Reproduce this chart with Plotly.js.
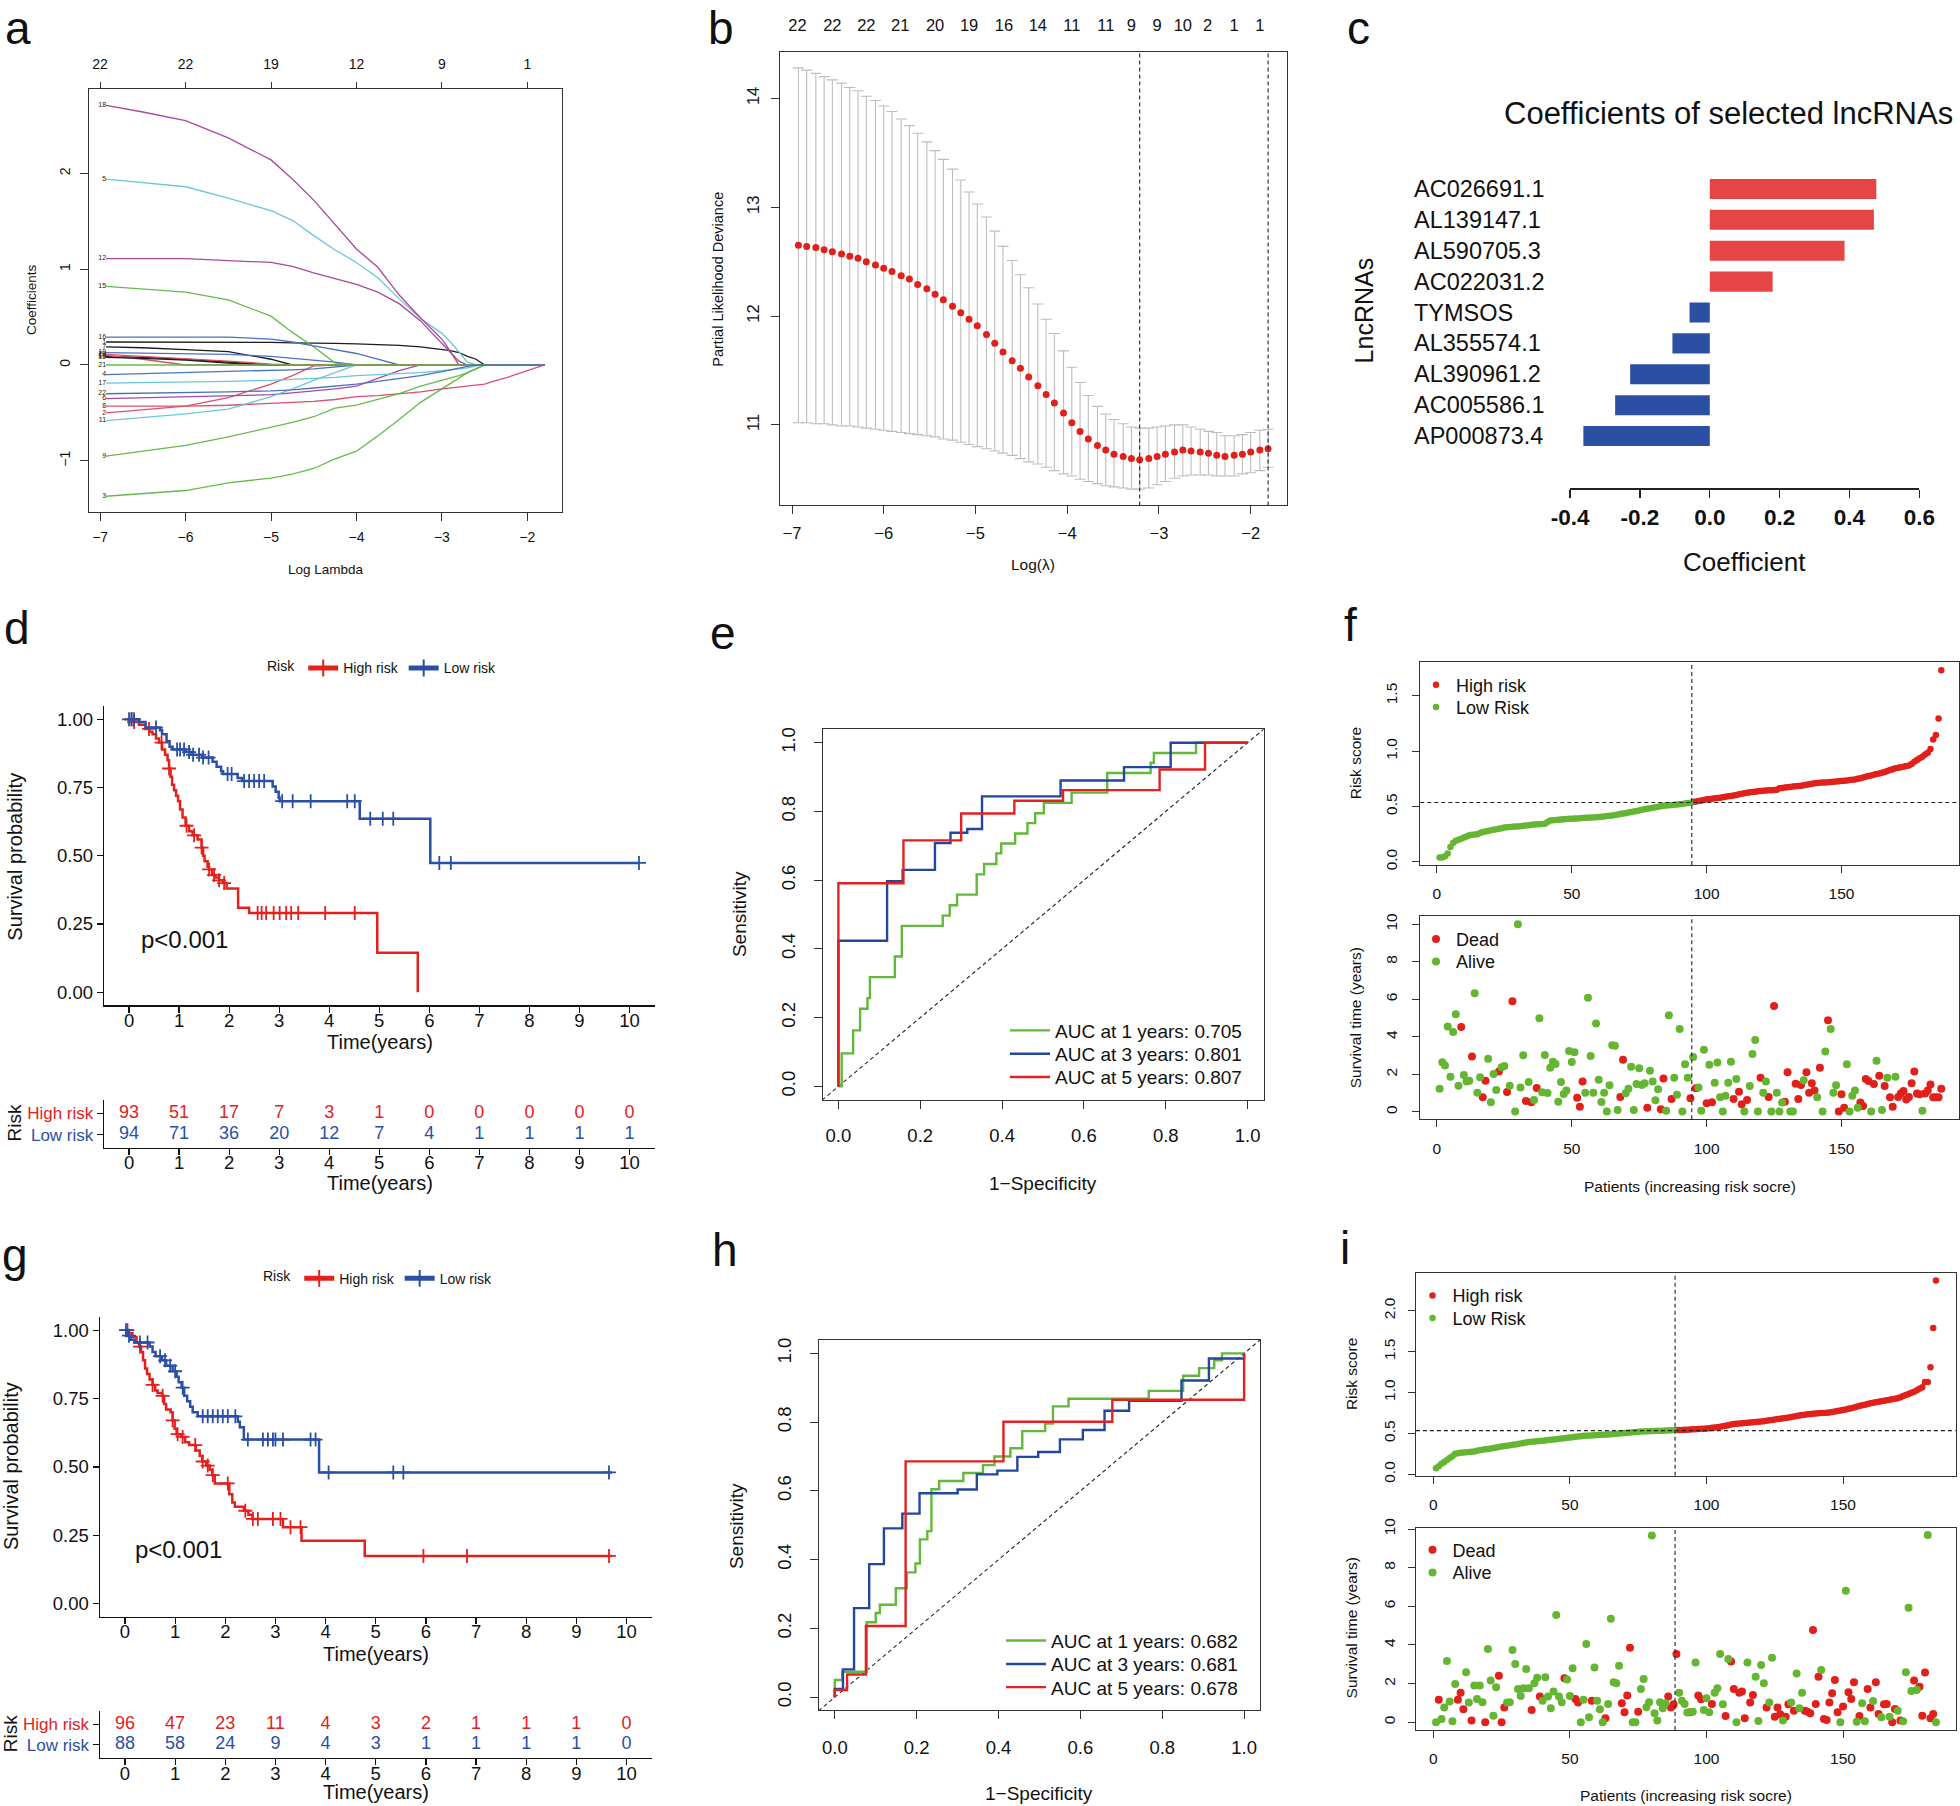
<!DOCTYPE html>
<html>
<head>
<meta charset="utf-8">
<script src="https://cdn.plot.ly/plotly-3.0.1.min.js"></script>
<style>
html,body{margin:0;padding:0;background:#fff;}
#fig{width:1960px;height:1806px;}
</style>
</head>
<body>
<div id="fig"></div>
<script>
// ======================= DATA =======================
// ---- panel a : LASSO coefficient paths ----
const A_LOGLAMBDA = [-6.93,-6.5,-6.0,-5.5,-5.0,-4.75,-4.5,-4.25,-4.0,-3.75,-3.5,-3.25,-3.0,-2.9,-2.8,-2.7,-2.6,-2.5,-2.4,-2.2,-2.0,-1.8];
const A_TOP_TICKS = [-7,-6,-5,-4,-3,-2];
const A_TOP_LABELS = ['22','22','19','12','9','1'];
const coef1  = [0.24,0.24,0.24,0.24,0.235,0.23,0.23,0.225,0.22,0.215,0.205,0.19,0.16,0.15,0.13,0.09,0.06,0,0,0,0,0];
const coef2  = [-0.50,-0.47,-0.43,-0.34,-0.20,-0.11,-0.01,0,0,0,0,0,0,0,0,0,0,0,0,0,0,0];
const coef3  = [-1.37,-1.34,-1.31,-1.23,-1.18,-1.14,-1.08,-0.98,-0.90,-0.74,-0.57,-0.39,-0.25,-0.19,-0.13,-0.08,-0.04,0,0,0,0,0];
const coef4  = [-0.10,-0.09,-0.08,-0.07,-0.06,-0.05,-0.04,-0.02,0,0,0,0,0,0,0,0,0,0,0,0,0,0];
const coef5  = [1.94,1.90,1.86,1.74,1.61,1.51,1.35,1.20,1.07,0.91,0.69,0.485,0.33,0.24,0.14,0.03,0,0,0,0,0,0];
const coef6  = [-0.35,-0.34,-0.33,-0.32,-0.31,-0.29,-0.27,-0.25,-0.22,-0.14,-0.06,0,0,0,0,0,0,0,0,0,0,0];
const coef7  = [0.19,0.18,0.16,0.14,0.06,0,0,0,0,0,0,0,0,0,0,0,0,0,0,0,0,0];
const coef8  = [-0.43,-0.43,-0.43,-0.42,-0.40,-0.39,-0.38,-0.36,-0.33,-0.32,-0.30,-0.28,-0.25,-0.24,-0.23,-0.22,-0.21,-0.20,-0.17,-0.12,-0.06,0];
const coef9  = [-0.95,-0.90,-0.84,-0.75,-0.65,-0.60,-0.54,-0.45,-0.42,-0.36,-0.30,-0.22,-0.16,-0.14,-0.11,-0.08,-0.04,0,0,0,0,0];
const coef10 = [0.13,0.125,0.12,0.11,0.09,0.07,0.05,0.03,0,0,0,0,0,0,0,0,0,0,0,0,0,0];
const coef11 = [-0.58,-0.55,-0.51,-0.46,-0.33,-0.25,-0.16,-0.08,0,0,0,0,0,0,0,0,0,0,0,0,0,0];
const coef12 = [1.11,1.11,1.11,1.09,1.07,1.03,0.96,0.90,0.84,0.76,0.64,0.46,0.22,0.13,0.04,0,0,0,0,0,0,0];
const coef13 = [0.09,0.08,0.06,0.03,0,0,0,0,0,0,0,0,0,0,0,0,0,0,0,0,0,0];
const coef14 = [0.10,0.06,0,0,0,0,0,0,0,0,0,0,0,0,0,0,0,0,0,0,0,0];
const coef15 = [0.82,0.79,0.76,0.68,0.51,0.34,0.19,0.02,0,0,0,0,0,0,0,0,0,0,0,0,0,0];
const coef16 = [0.29,0.29,0.29,0.29,0.27,0.24,0.20,0.16,0.12,0.06,0,0,0,0,0,0,0,0,0,0,0,0];
const coef17 = [-0.19,-0.185,-0.18,-0.17,-0.16,-0.15,-0.14,-0.13,-0.11,-0.10,-0.09,-0.08,-0.06,-0.05,-0.04,-0.03,-0.01,0,0,0,0,0];
const coef18 = [2.71,2.64,2.55,2.37,2.14,1.94,1.72,1.47,1.21,1.02,0.73,0.49,0.27,0.14,0,0,0,0,0,0,0,0];
const coef19 = [0.08,0.07,0.05,0.02,0,0,0,0,0,0,0,0,0,0,0,0,0,0,0,0,0,0];
const coef20 = [0.11,0.09,0.07,0.04,0.01,0,0,0,0,0,0,0,0,0,0,0,0,0,0,0,0,0];
const coef21 = [0,0,0,0,0,0,0,0,0,0,0,0,0,0,0,0,0,0,0,0,0,0];
const coef22 = [-0.30,-0.295,-0.29,-0.28,-0.27,-0.26,-0.24,-0.22,-0.20,-0.17,-0.14,-0.11,-0.07,-0.05,-0.03,-0.015,0,0,0,0,0,0];
const A_VAR_LABELS = ['1','2','3','4','5','6','7','8','9','10','11','12','13','14','15','16','17','18','19','20','21','22'];

// ---- panel b : cross-validation ----
const CV_LOGLAMBDA = [-6.93,-6.84,-6.74,-6.65,-6.56,-6.46,-6.37,-6.28,-6.19,-6.09,-6.00,-5.91,-5.81,-5.72,-5.63,-5.53,-5.44,-5.35,-5.25,-5.16,-5.07,-4.98,-4.88,-4.79,-4.70,-4.60,-4.51,-4.42,-4.32,-4.23,-4.14,-4.04,-3.95,-3.86,-3.77,-3.67,-3.58,-3.49,-3.39,-3.30,-3.21,-3.11,-3.02,-2.93,-2.83,-2.74,-2.65,-2.55,-2.46,-2.37,-2.28,-2.18,-2.09,-2.00,-1.90,-1.81];
const CV_MEAN = [12.65,12.64,12.63,12.61,12.59,12.57,12.55,12.53,12.50,12.47,12.44,12.41,12.37,12.34,12.29,12.25,12.20,12.15,12.09,12.03,11.97,11.91,11.83,11.75,11.67,11.59,11.52,11.44,11.36,11.28,11.20,11.11,11.02,10.94,10.87,10.81,10.77,10.73,10.71,10.69,10.68,10.69,10.71,10.73,10.75,10.77,10.76,10.75,10.74,10.72,10.71,10.72,10.73,10.75,10.77,10.78];
const CV_UPPER = [14.28,14.26,14.23,14.20,14.17,14.14,14.10,14.07,14.02,13.98,13.93,13.88,13.81,13.75,13.68,13.60,13.52,13.44,13.35,13.25,13.14,13.03,12.91,12.78,12.64,12.51,12.38,12.26,12.11,11.97,11.84,11.68,11.53,11.39,11.27,11.17,11.10,11.05,11.01,10.98,10.97,10.97,10.98,10.99,11.00,11.00,10.98,10.96,10.94,10.93,10.90,10.90,10.91,10.93,10.95,10.96];
const CV_LOWER = [11.02,11.02,11.01,11.01,11.00,10.99,10.99,10.98,10.97,10.96,10.95,10.94,10.93,10.92,10.91,10.90,10.89,10.87,10.86,10.84,10.82,10.80,10.78,10.76,10.74,10.72,10.69,10.66,10.64,10.61,10.58,10.55,10.53,10.50,10.48,10.46,10.44,10.43,10.42,10.41,10.41,10.42,10.45,10.48,10.51,10.53,10.54,10.54,10.54,10.53,10.53,10.53,10.55,10.56,10.58,10.61];
const CV_TOP_X = [-6.94,-6.56,-6.19,-5.82,-5.44,-5.07,-4.69,-4.32,-3.95,-3.58,-3.30,-3.02,-2.74,-2.47,-2.18,-1.90];
const CV_TOP_LABELS = ['22','22','22','21','20','19','16','14','11','11','9','9','10','2','1','1'];
const CV_LAMBDA_MIN = -3.21;
const CV_LAMBDA_1SE = -1.81;

// ---- panel c : coefficients ----
const C_GENES = ['AC026691.1','AL139147.1','AL590705.3','AC022031.2','TYMSOS','AL355574.1','AL390961.2','AC005586.1','AP000873.4'];
const C_COEF = [0.477,0.470,0.386,0.180,-0.058,-0.107,-0.228,-0.271,-0.362];
const C_TICKS = [-0.4,-0.2,0.0,0.2,0.4,0.6];
const C_TICK_LABELS = ['-0.4','-0.2','0.0','0.2','0.4','0.6'];

// ---- KM (d, g) ----
const TABLE_TIMES = [0,1,2,3,4,5,6,7,8,9,10];
const D_HIGH_T = [0,0.1,0.2,0.33,0.41,0.47,0.54,0.6,0.66,0.72,0.77,0.8,0.83,0.86,0.9,0.94,0.98,1.02,1.07,1.13,1.2,1.27,1.37,1.45,1.48,1.51,1.57,1.6,1.66,1.72,1.8,1.88,1.95,2.18,2.4,4.96,5.77];
const D_HIGH_S = [1.0,0.99,0.98,0.965,0.955,0.945,0.93,0.915,0.89,0.87,0.85,0.82,0.79,0.76,0.74,0.72,0.70,0.67,0.64,0.61,0.59,0.575,0.56,0.53,0.50,0.48,0.46,0.45,0.43,0.42,0.41,0.40,0.38,0.31,0.29,0.145,0.0];
const D_HIGH_CENSOR = [0.05,0.1,0.4,0.65,0.8,1.15,1.3,1.45,1.6,1.7,1.8,1.9,2.57,2.65,2.74,2.89,3.01,3.14,3.24,3.38,3.92,4.51];
const D_LOW_T = [0,0.2,0.33,0.62,0.66,0.75,0.81,0.87,1.13,1.25,1.46,1.67,1.75,1.84,1.88,2.17,2.26,2.87,2.93,2.99,3.01,4.61,6.02,10.19];
const D_LOW_S = [1.0,0.99,0.97,0.96,0.945,0.92,0.90,0.89,0.88,0.87,0.86,0.845,0.826,0.81,0.80,0.785,0.774,0.754,0.735,0.713,0.70,0.636,0.474,0.474];
const D_LOW_CENSOR = [0.0,0.05,0.1,0.54,0.96,1.02,1.1,1.2,1.28,1.4,1.48,1.59,1.97,2.05,2.3,2.4,2.5,2.6,2.7,3.06,3.27,3.63,4.36,4.51,4.82,5.07,5.28,6.2,6.43,10.19];
const D_AT_RISK_HIGH = [93,51,17,7,3,1,0,0,0,0,0];
const D_AT_RISK_LOW = [94,71,36,20,12,7,4,1,1,1,1];

const G_HIGH_T = [0,0.07,0.15,0.23,0.28,0.32,0.36,0.40,0.44,0.49,0.55,0.60,0.65,0.74,0.78,0.82,0.91,0.95,0.99,1.03,1.12,1.20,1.28,1.41,1.49,1.54,1.62,1.69,1.74,1.79,2.08,2.14,2.19,2.37,2.46,2.54,3.15,3.52,4.78,9.71];
const G_HIGH_S = [1,0.99,0.975,0.955,0.94,0.92,0.89,0.86,0.84,0.82,0.80,0.78,0.77,0.76,0.73,0.71,0.70,0.67,0.64,0.62,0.61,0.59,0.58,0.56,0.54,0.52,0.505,0.49,0.47,0.44,0.40,0.37,0.355,0.34,0.325,0.31,0.28,0.23,0.175,0.175];
const G_HIGH_CENSOR = [0.05,0.3,0.55,0.75,0.95,1.05,1.15,1.4,1.55,1.65,1.75,2.05,2.4,2.55,2.65,2.95,3.1,3.3,3.5,5.95,6.82,9.65];
const G_LOW_T = [0,0.03,0.11,0.19,0.49,0.55,0.61,0.74,0.82,0.95,1.03,1.07,1.13,1.18,1.24,1.30,1.35,1.45,2.25,2.29,2.37,3.87,9.71];
const G_LOW_S = [1,0.98,0.965,0.955,0.94,0.92,0.905,0.89,0.87,0.85,0.83,0.81,0.79,0.76,0.74,0.72,0.70,0.685,0.665,0.645,0.60,0.48,0.48];
const G_LOW_CENSOR = [0.02,0.08,0.3,0.45,0.7,0.8,0.9,1.0,1.15,1.55,1.65,1.75,1.85,1.95,2.05,2.2,2.45,2.75,2.85,2.95,3.0,3.15,3.7,3.8,4.06,5.35,5.55,9.65];
const G_AT_RISK_HIGH = [96,47,23,11,4,3,2,1,1,1,0];
const G_AT_RISK_LOW = [88,58,24,9,4,3,1,1,1,1,0];

// ---- ROC (e, h) ----
const E_FPR_1 = [0,0.008,0.036,0.053,0.071,0.077,0.138,0.155,0.255,0.272,0.290,0.338,0.356,0.386,0.398,0.432,0.462,0.481,0.502,0.570,0.657,0.763,0.771,0.874,1.0];
const E_TPR_1 = [0,0,0.096,0.163,0.226,0.257,0.318,0.378,0.467,0.497,0.527,0.558,0.617,0.647,0.678,0.707,0.736,0.766,0.795,0.825,0.855,0.912,0.942,0.970,1.0];
const E_FPR_3 = [0,0.119,0.157,0.236,0.274,0.315,0.351,0.543,0.698,0.812,1.0];
const E_TPR_3 = [0,0.424,0.597,0.630,0.708,0.738,0.749,0.844,0.890,0.929,1.0];
const E_FPR_5 = [0,0.159,0.300,0.430,0.549,0.785,0.896,1.0];
const E_TPR_5 = [0,0.591,0.716,0.794,0.831,0.862,0.922,1.0];
const E_AUC = ['0.705','0.801','0.807'];
const H_FPR_1 = [0,0.018,0.078,0.10,0.11,0.149,0.176,0.197,0.208,0.226,0.236,0.255,0.314,0.362,0.390,0.429,0.458,0.514,0.533,0.571,0.767,0.851,0.890,0.927,0.946,1.0];
const H_TPR_1 = [0,0.05,0.074,0.218,0.245,0.269,0.317,0.363,0.389,0.459,0.483,0.605,0.629,0.652,0.675,0.700,0.724,0.774,0.796,0.846,0.868,0.891,0.935,0.957,0.980,1.0];
const H_FPR_3 = [0,0.02,0.047,0.084,0.12,0.165,0.207,0.30,0.347,0.397,0.446,0.497,0.550,0.606,0.659,0.719,0.847,0.914,1.0,1.0];
const H_TPR_3 = [0,0.024,0.081,0.259,0.387,0.491,0.534,0.593,0.604,0.648,0.659,0.699,0.713,0.750,0.777,0.833,0.862,0.921,0.985,1.0];
const H_FPR_5 = [0,0.03,0.076,0.173,0.412,0.678,1.0,1.0];
const H_TPR_5 = [0,0.021,0.066,0.207,0.686,0.801,0.865,1.0];
const H_AUC = ['0.682','0.681','0.678'];
const ROC_TICKS = [0,0.2,0.4,0.6,0.8,1.0];
const ROC_TICK_LABELS = ['0.0','0.2','0.4','0.6','0.8','1.0'];

// ---- risk score & survival (f) ----
const F_LOW_N = 94;
const F_CUTOFF = 0.536;
const F_RISK = [0.04,0.04,0.05,0.075,0.135,0.17,0.19,0.20,0.21,0.22,
0.23,0.24,0.245,0.248,0.25,0.26,0.27,0.275,0.28,0.285,
0.29,0.295,0.30,0.305,0.31,0.312,0.315,0.317,0.319,0.32,
0.323,0.326,0.329,0.332,0.335,0.337,0.339,0.341,0.343,0.345,
0.36,0.375,0.377,0.379,0.381,0.383,0.385,0.387,0.389,0.39,
0.392,0.393,0.395,0.396,0.398,0.399,0.40,0.402,0.403,0.405,
0.408,0.411,0.414,0.417,0.42,0.424,0.428,0.432,0.436,0.44,
0.445,0.45,0.455,0.46,0.465,0.47,0.475,0.48,0.485,0.49,
0.494,0.498,0.502,0.506,0.51,0.512,0.514,0.516,0.518,0.52,
0.523,0.527,0.531,0.535,
0.54,0.545,0.55,0.555,0.56,0.565,
0.568,0.571,0.574,0.577,0.58,0.584,0.588,0.592,0.596,0.60,
0.605,0.61,0.615,0.62,0.625,0.628,0.631,0.634,0.637,0.64,
0.642,0.644,0.646,0.648,0.65,0.652,0.665,0.668,0.671,0.674,
0.677,0.68,0.683,0.685,0.687,0.692,0.697,0.702,0.706,0.71,
0.712,0.714,0.716,0.718,0.72,0.722,0.724,0.726,0.728,0.73,
0.733,0.736,0.739,0.742,0.745,0.75,0.756,0.762,0.768,0.775,
0.781,0.787,0.793,0.799,0.805,0.813,0.821,0.829,0.837,0.845,
0.85,0.855,0.86,0.865,0.87,0.885,0.905,0.92,0.935,0.95,
0.97,0.985,1.02,1.105,1.145,1.295,1.73];
const F_TIME = [1.24,2.65,2.47,4.55,1.88,4.26,5.2,1.4,4.53,1.97,
1.62,1.67,2.95,6.32,1.03,1.85,0.78,1.67,2.84,0.52,
2.02,1.17,2.15,2.38,2.45,1.07,1.4,5.9,0.02,10.0,
1.3,3.02,0.59,1.6,0.52,0.64,1.28,4.99,1.05,3.04,
1.01,2.36,2.68,2.56,0.55,1.6,0.96,1.14,3.25,2.66,
3.18,0.76,0.28,1.62,1.03,6.09,2.98,1.03,4.72,1.72,
0.53,1.03,0.02,1.42,3.55,3.53,0.1,0.8,2.78,1.0,
1.24,2.41,0.1,1.49,2.33,1.44,1.53,0.23,2.2,1.62,
0.62,1.21,0.14,1.78,0.07,5.15,0.69,1.83,0.92,4.42,
0.02,2.54,1.83,0.73,2.93,1.26,1.3,0.07,3.32,0.46,
2.52,0.52,1.56,2.63,0.78,0.02,0.87,1.56,2.68,0.69,
1.76,1.08,0.41,0.02,0.64,1.39,3.09,3.84,0.02,1.83,
1.03,1.62,0.8,0.02,5.65,1.03,0.02,0.5,0.55,2.11,
0.02,0.02,1.51,0.69,1.44,1.69,2.11,1.03,1.53,1.15,
0.78,2.36,0.02,3.22,4.88,4.42,1.03,1.42,0.02,0.94,
0.23,2.54,0.02,0.87,1.14,0.23,0.5,0.32,1.76,1.65,
0.02,1.49,2.73,1.93,0.1,1.39,1.83,0.78,0.28,1.88,
0.8,0.98,1.12,0.67,0.8,1.53,2.15,0.98,0.94,0.07,
0.98,1.14,1.47,0.78,0.78,0.78,1.24];
const F_STATUS = [0,0,0,0,0,0,0,0,1,0,
0,0,1,0,0,0,1,1,0,0,
0,0,1,0,0,1,0,1,0,0,
0,0,1,0,1,0,1,0,0,0,
0,0,0,0,0,0,0,0,0,0,
0,1,1,1,0,0,0,0,0,0,
0,0,0,0,0,0,0,1,1,0,
0,0,0,0,0,0,0,1,0,0,
0,0,1,1,0,0,1,0,0,0,
0,0,0,1,0,1,0,0,0,1,
0,1,0,0,0,0,0,0,0,1,
0,1,1,0,1,0,0,0,0,1,
0,0,1,0,1,0,0,0,1,1,
0,0,1,1,1,0,1,1,1,1,
0,1,0,0,1,0,0,0,1,1,
1,0,0,0,0,0,1,1,1,1,
0,1,0,1,0,1,0,1,1,0,
1,1,1,1,1,1,1,1,1,0,
1,1,1,1,1,1,1];

// ---- risk score & survival (i) ----
const I_LOW_N = 88;
const I_CUTOFF = 0.534;
const I_RISK = [0.073,0.10,0.13,0.15,0.175,0.20,0.22,0.25,0.258,0.265,
0.268,0.27,0.273,0.276,0.28,0.287,0.293,0.30,0.305,0.31,
0.316,0.322,0.328,0.334,0.34,0.345,0.35,0.355,0.36,0.365,
0.371,0.377,0.383,0.389,0.395,0.398,0.401,0.404,0.407,0.41,
0.414,0.418,0.422,0.426,0.43,0.434,0.438,0.442,0.446,0.45,
0.454,0.458,0.462,0.466,0.47,0.472,0.474,0.476,0.478,0.48,
0.482,0.484,0.486,0.488,0.49,0.493,0.496,0.499,0.502,0.505,
0.508,0.511,0.514,0.517,0.52,0.522,0.524,0.526,0.528,0.53,
0.531,0.532,0.533,0.534,0.535,0.537,0.538,0.54,
0.541,0.542,0.543,0.544,0.545,0.547,0.55,0.552,0.554,0.556,0.558,0.56,
0.564,0.568,0.572,0.576,0.58,0.587,0.594,0.601,0.608,0.615,
0.618,0.621,0.624,0.627,0.63,0.633,0.636,0.639,0.642,0.645,
0.65,0.655,0.66,0.665,0.67,0.675,0.68,0.685,0.69,0.695,
0.701,0.707,0.713,0.719,0.725,0.729,0.733,0.737,0.741,0.745,
0.747,0.749,0.751,0.753,0.755,0.761,0.767,0.773,0.779,0.785,
0.793,0.801,0.809,0.817,0.825,0.834,0.843,0.852,0.861,0.87,
0.876,0.882,0.888,0.894,0.90,0.906,0.912,0.918,0.924,0.93,
0.943,0.956,0.97,0.983,0.996,1.01,1.028,1.046,1.065,
1.13,1.13,1.31,1.79,2.37];
const I_TIME = [0.0,1.16,0.17,0.76,3.17,1.07,0.05,1.98,1.16,1.53,
0.67,2.59,1.02,0.09,1.9,1.21,1.9,1.03,0.0,3.79,
2.16,0.34,1.81,2.41,0.0,0.76,1.02,1.03,3.74,3.02,
1.72,1.36,1.76,2.76,1.76,0.64,2.02,2.31,1.33,1.12,
2.33,1.33,0.72,1.59,5.55,1.33,1.03,2.28,2.22,1.36,
2.79,1.21,1.02,0.0,1.16,4.05,0.26,1.12,2.84,1.12,
0.67,0.0,0.21,0.95,5.36,2.07,2.02,2.93,0.98,0.52,
1.38,3.86,0.0,0.0,0.55,1.72,2.24,0.78,1.03,9.66,
0.47,0.09,1.03,0.72,0.98,1.33,0.76,0.93,3.53,1.53,
1.12,0.95,0.5,0.52,0.55,3.09,1.38,1.19,0.64,1.24,
0.52,0.95,1.53,1.76,3.53,0.93,0.33,3.28,3.14,1.72,
0.0,1.53,1.59,0.21,3.09,1.02,1.41,2.36,0.07,2.97,
2.02,0.76,1.02,3.34,0.29,0.76,0.41,0.09,0.29,0.93,
1.02,0.59,2.53,0.72,1.53,0.6,0.55,0.47,4.78,0.95,
2.36,2.71,0.17,0.12,1.02,1.5,2.19,0.52,0.0,0.81,
6.81,1.55,1.21,2.07,0.03,0.33,0.98,0.05,1.72,0.76,
1.1,2.07,0.43,0.26,0.93,0.95,0.29,0.0,0.69,0.6,
0.09,0.05,2.59,5.93,1.62,2.16,1.67,1.84,0.34,2.57,
9.69,0.21,0.43,0.0];
const I_STATUS = [0,1,0,0,0,0,0,0,1,1,
1,0,0,1,0,0,0,0,1,0,
0,0,0,1,1,1,0,0,0,0,
0,0,0,0,0,1,0,0,1,0,
0,0,0,0,0,0,0,1,0,0,
0,1,1,0,0,0,0,1,0,0,
0,0,1,0,0,0,0,0,1,1,
1,1,0,0,1,0,0,0,0,0,
0,0,0,0,0,1,1,1,1,0,
0,0,0,1,0,0,1,1,0,0,
0,1,0,0,0,0,1,0,1,1,
0,1,1,1,0,1,1,0,0,0,
0,1,0,0,1,1,1,0,1,1,
0,1,0,0,0,1,1,1,1,1,
1,0,1,1,1,1,1,1,0,1,
0,1,1,1,0,1,0,0,1,1,
0,1,1,0,1,1,0,1,1,0,
1,0,0,0,0,1,0,1,1,1,
0,1,1,0];

// ======================= STYLE / LAYOUT HELPERS =======================
const FONT = '"Liberation Sans", Arial, Helvetica, sans-serif';
const W = 1960, H = 1806;
const px = v => v / W, py = v => 1 - v / H;
const dx = (a, b) => [a / W, b / W];
const dy = (t, b) => [1 - b / H, 1 - t / H];

const KM_RED = '#E3211C', KM_BLUE = '#2B4FA6';
const PT_RED = '#E2201B', PT_GREEN = '#64B632';
const ROC_GREEN = '#62B83A', ROC_BLUE = '#23469F', ROC_RED = '#E22222';
const R_PAL = ['#1c1c1c','#D9506A','#67BA4A','#4A72BE','#6CC6DA','#A8489F'];

const traces = [], annotations = [], shapes = [];

function rAxis(o) {
  return Object.assign({
    showline: true, mirror: true, linecolor: '#333', linewidth: 1,
    ticks: 'outside', ticklen: 8, tickwidth: 1, tickcolor: '#333',
    showgrid: false, zeroline: false, fixedrange: true,
    tickfont: {size: 15.5, color: '#111'}
  }, o);
}
function ggAxis(o) {
  return Object.assign({
    showline: true, mirror: false, linecolor: '#111', linewidth: 1.3,
    ticks: 'outside', ticklen: 6, tickwidth: 1.2, tickcolor: '#111',
    showgrid: false, zeroline: false, fixedrange: true,
    tickfont: {size: 18.5, color: '#111'}, ticklabelstandoff: -8
  }, o);
}
function ann(text, x, y, size, o) {
  annotations.push(Object.assign({
    text: text, x: px(x), y: py(y), xref: 'paper', yref: 'paper', showarrow: false,
    xanchor: 'center', yanchor: 'middle', font: {size: size, color: '#111'}
  }, o || {}));
}
function stepAt(T, S, t) {
  let v = S[0];
  for (let k = 0; k < T.length; k++) { if (T[k] <= t) v = S[k]; }
  return v;
}
const noBg = 'rgba(0,0,0,0)';
function legendAt(x, y, size, extra) {
  return Object.assign({x: px(x), y: py(y), xanchor: 'left', yanchor: 'middle', font: {size: size},
    bgcolor: noBg, traceorder: 'normal'}, extra || {});
}

// ======================= TRACES =======================
// a
const A_COEFS = [coef1,coef2,coef3,coef4,coef5,coef6,coef7,coef8,coef9,coef10,coef11,coef12,coef13,coef14,coef15,coef16,coef17,coef18,coef19,coef20,coef21,coef22];
A_COEFS.forEach((c, k) => traces.push({
  type: 'scatter', mode: 'lines', x: A_LOGLAMBDA, y: c, xaxis: 'x', yaxis: 'y',
  line: {color: R_PAL[k % 6], width: 1.3}, showlegend: false, hoverinfo: 'skip'
}));
traces.push({
  type: 'scatter', mode: 'text', x: A_COEFS.map(() => A_LOGLAMBDA[0]), y: A_COEFS.map(c => c[0]),
  text: A_VAR_LABELS, textposition: 'middle left', textfont: {size: 7, color: '#222'},
  xaxis: 'x2', yaxis: 'y', showlegend: false, hoverinfo: 'skip', cliponaxis: false
});

// b
traces.push({
  type: 'scatter', mode: 'markers', x: CV_LOGLAMBDA, y: CV_MEAN, xaxis: 'x4', yaxis: 'y3',
  marker: {color: PT_RED, size: 7},
  error_y: {type: 'data', symmetric: false,
    array: CV_UPPER.map((u, i) => u - CV_MEAN[i]),
    arrayminus: CV_LOWER.map((l, i) => CV_MEAN[i] - l),
    color: '#BDBDBD', thickness: 1.1, width: 5.5},
  showlegend: false, hoverinfo: 'skip'
});

// c
traces.push({
  type: 'bar', orientation: 'h', x: C_COEF, y: C_GENES, xaxis: 'x5', yaxis: 'y5', width: 0.65,
  marker: {color: C_COEF.map(v => v > 0 ? '#E54545' : '#2A4FA3')},
  showlegend: false, hoverinfo: 'skip'
});

// KM helper
function km(T, S, censor, color, name, xa, ya, lg) {
  traces.push({
    type: 'scatter', mode: 'lines+markers', x: T, y: S, name: name, legend: lg,
    line: {shape: 'hv', color: color, width: 2.5},
    marker: {symbol: 'cross-thin', size: 0.01, color: color, line: {color: color, width: 2}},
    xaxis: xa, yaxis: ya, hoverinfo: 'skip'
  });
  traces.push({
    type: 'scatter', mode: 'markers', x: censor, y: censor.map(t => stepAt(T, S, t)),
    marker: {symbol: 'cross-thin', size: 10, color: color, line: {color: color, width: 1.8}},
    xaxis: xa, yaxis: ya, showlegend: false, hoverinfo: 'skip'
  });
}
function riskRow(counts, row, color, xa, ya) {
  traces.push({
    type: 'scatter', mode: 'text', x: TABLE_TIMES, y: TABLE_TIMES.map(() => row), text: counts.map(String),
    textfont: {size: 18, color: color}, xaxis: xa, yaxis: ya, showlegend: false, hoverinfo: 'skip', cliponaxis: false
  });
}
km(D_HIGH_T, D_HIGH_S, D_HIGH_CENSOR, KM_RED, 'High risk', 'x6', 'y6', 'legend');
km(D_LOW_T, D_LOW_S, D_LOW_CENSOR, KM_BLUE, 'Low risk', 'x6', 'y6', 'legend');
riskRow(D_AT_RISK_HIGH, 1, KM_RED, 'x7', 'y7');
riskRow(D_AT_RISK_LOW, 0, KM_BLUE, 'x7', 'y7');
km(G_HIGH_T, G_HIGH_S, G_HIGH_CENSOR, KM_RED, 'High risk', 'x11', 'y11', 'legend5');
km(G_LOW_T, G_LOW_S, G_LOW_CENSOR, KM_BLUE, 'Low risk', 'x11', 'y11', 'legend5');
riskRow(G_AT_RISK_HIGH, 1, KM_RED, 'x12', 'y12');
riskRow(G_AT_RISK_LOW, 0, KM_BLUE, 'x12', 'y12');

// ROC helper
function roc(fpr, tpr, color, name, xa, ya, lg) {
  traces.push({
    type: 'scatter', mode: 'lines', x: fpr, y: tpr, name: name, legend: lg,
    line: {shape: 'vh', color: color, width: 2.4}, xaxis: xa, yaxis: ya, hoverinfo: 'skip'
  });
}
roc(E_FPR_1, E_TPR_1, ROC_GREEN, 'AUC at 1 years: ' + E_AUC[0], 'x8', 'y8', 'legend2');
roc(E_FPR_3, E_TPR_3, ROC_BLUE, 'AUC at 3 years: ' + E_AUC[1], 'x8', 'y8', 'legend9');
roc(E_FPR_5, E_TPR_5, ROC_RED, 'AUC at 5 years: ' + E_AUC[2], 'x8', 'y8', 'legend10');
roc(H_FPR_1, H_TPR_1, ROC_GREEN, 'AUC at 1 years: ' + H_AUC[0], 'x13', 'y13', 'legend6');
roc(H_FPR_3, H_TPR_3, ROC_BLUE, 'AUC at 3 years: ' + H_AUC[1], 'x13', 'y13', 'legend11');
roc(H_FPR_5, H_TPR_5, ROC_RED, 'AUC at 5 years: ' + H_AUC[2], 'x13', 'y13', 'legend12');

// risk plots helper
function riskPlot(risk, time, status, lowN, xaTop, yaTop, xaBot, yaBot, lgs) {
  const idx = risk.map((_, i) => i + 1);
  traces.push({type: 'scatter', mode: 'markers', x: idx.slice(lowN), y: risk.slice(lowN), name: 'High risk', legend: lgs[0],
    marker: {color: PT_RED, size: 6.5}, xaxis: xaTop, yaxis: yaTop, hoverinfo: 'skip', cliponaxis: false});
  traces.push({type: 'scatter', mode: 'markers', x: idx.slice(0, lowN), y: risk.slice(0, lowN), name: 'Low Risk', legend: lgs[1],
    marker: {color: PT_GREEN, size: 6.5}, xaxis: xaTop, yaxis: yaTop, hoverinfo: 'skip', cliponaxis: false});
  const dead = idx.filter((_, i) => status[i] === 1), alive = idx.filter((_, i) => status[i] === 0);
  traces.push({type: 'scatter', mode: 'markers', x: dead, y: dead.map(k => time[k - 1]), name: 'Dead', legend: lgs[2],
    marker: {color: PT_RED, size: 8}, xaxis: xaBot, yaxis: yaBot, hoverinfo: 'skip', cliponaxis: false});
  traces.push({type: 'scatter', mode: 'markers', x: alive, y: alive.map(k => time[k - 1]), name: 'Alive', legend: lgs[3],
    marker: {color: PT_GREEN, size: 8}, xaxis: xaBot, yaxis: yaBot, hoverinfo: 'skip', cliponaxis: false});
}
riskPlot(F_RISK, F_TIME, F_STATUS, F_LOW_N, 'x9', 'y9', 'x10', 'y10', ['legend3','legend13','legend4','legend14']);
riskPlot(I_RISK, I_TIME, I_STATUS, I_LOW_N, 'x14', 'y14', 'x15', 'y15', ['legend7','legend15','legend8','legend16']);

// ======================= SHAPES =======================
const dash = {color: '#222', width: 1.1, dash: '4px,3px'};
shapes.push({type: 'line', xref: 'x3', yref: 'y3 domain', x0: CV_LAMBDA_MIN, x1: CV_LAMBDA_MIN, y0: 0, y1: 1, line: dash});
shapes.push({type: 'line', xref: 'x3', yref: 'y3 domain', x0: CV_LAMBDA_1SE, x1: CV_LAMBDA_1SE, y0: 0, y1: 1, line: dash});
shapes.push({type: 'line', xref: 'x8', yref: 'y8', x0: -0.04, y0: -0.04, x1: 1.04, y1: 1.04, line: dash, layer: 'below'});
shapes.push({type: 'line', xref: 'x13', yref: 'y13', x0: -0.04, y0: -0.04, x1: 1.04, y1: 1.04, line: dash, layer: 'below'});
[['x9','y9',F_LOW_N,F_CUTOFF],['x14','y14',I_LOW_N,I_CUTOFF]].forEach(([xa, ya, n, cut]) => {
  shapes.push({type: 'line', xref: xa, yref: ya + ' domain', x0: n + 0.5, x1: n + 0.5, y0: 0, y1: 1, line: dash});
  shapes.push({type: 'line', xref: xa + ' domain', yref: ya, x0: 0, x1: 1, y0: cut, y1: cut, line: dash});
});
shapes.push({type: 'line', xref: 'x10', yref: 'y10 domain', x0: F_LOW_N + 0.5, x1: F_LOW_N + 0.5, y0: 0, y1: 1, line: dash});
shapes.push({type: 'line', xref: 'x15', yref: 'y15 domain', x0: I_LOW_N + 0.5, x1: I_LOW_N + 0.5, y0: 0, y1: 1, line: dash});

// ======================= ANNOTATIONS =======================
// panel letters (a, b, c anchored at the top edge)
[['a',3],['b',706],['c',1345]].forEach(([t, x]) =>
  annotations.push({text: t, x: px(x), y: 1, xref: 'paper', yref: 'paper', xanchor: 'left', yanchor: 'top',
    showarrow: false, font: {size: 46, color: '#111'}}));
[['d',2,645.5],['e',708,649.8],['f',1342,641.7],['g',0,1272.3],['h',710,1266.7],['i',1338,1265]]
  .forEach(([t, x, b]) => ann(t, x, b + 11, 46, {xanchor: 'left', yanchor: 'bottom'}));
// a
ann('Coefficients', 32, 300, 13.5, {textangle: -90});
ann('Log Lambda', 325.5, 570, 13.5);
// b
ann('Partial Likelihood Deviance', 717.7, 279, 14.5, {textangle: -90});
ann('Log(λ)', 1033, 564.5, 15.5);
// c
ann('Coefficients of selected lncRNAs', 1728.3, 113.3, 31);
ann('Coefficient', 1744.5, 561.7, 26);
ann('LncRNAs', 1363.7, 310.7, 25, {textangle: -90});
C_GENES.forEach(g => annotations.push({text: g, x: px(1412), xref: 'paper', y: g, yref: 'y5', xanchor: 'left', yanchor: 'middle',
  showarrow: false, font: {size: 23.5, color: '#111'}}));
// d
ann('Survival probability', 14.7, 857, 20, {textangle: -90});
ann('Time(years)', 379.7, 1042.1, 20);
ann('Time(years)', 379.7, 1183.2, 20);
ann('Risk', 14.7, 1122.7, 19, {textangle: -90});
ann('p&lt;0.001', 138.5, 939.3, 24, {xanchor: 'left'});
// e
ann('Sensitivity', 739.5, 914.6, 19, {textangle: -90});
ann('1−Specificity', 1043.2, 1183.6, 19);
// f
ann('Risk score', 1355, 763.3, 15.5, {textangle: -90});
ann('Survival time (years)', 1355, 1018.3, 15.5, {textangle: -90});
ann('Patients (increasing risk socre)', 1690, 1186, 15.5);
// g
ann('Survival probability', 10.5, 1466.6, 20, {textangle: -90});
ann('Time(years)', 375.9, 1653.5, 20);
ann('Time(years)', 375.9, 1791.8, 20);
ann('Risk', 10.5, 1733.8, 19, {textangle: -90});
ann('p&lt;0.001', 133, 1549.6, 24, {xanchor: 'left'});
// h
ann('Sensitivity', 736.4, 1525.7, 19, {textangle: -90});
ann('1−Specificity', 1039.3, 1793.8, 19);
// i
ann('Risk score', 1351.1, 1374, 15.5, {textangle: -90});
ann('Survival time (years)', 1351.1, 1628.3, 15.5, {textangle: -90});
ann('Patients (increasing risk socre)', 1686, 1795, 15.5);

// ======================= LAYOUT =======================
const tblText = (c, t) => '<span style="color:' + c + '">' + t + '</span>';
const kmTicks = {tickvals: [0,0.25,0.5,0.75,1], ticktext: ['0.00','0.25','0.50','0.75','1.00'], ticklabelstandoff: 0};
const kmLegend = (x, y) => ({x: px(x), y: py(y), xanchor: 'left', yanchor: 'middle', orientation: 'h',
  title: {text: 'Risk', side: 'left', font: {size: 14}}, font: {size: 14}, bgcolor: noBg, itemsizing: 'constant', traceorder: 'normal'});
const layout = {
  width: W, height: H, margin: {l: 0, r: 0, t: 0, b: 0},
  paper_bgcolor: '#ffffff', plot_bgcolor: noBg,
  font: {family: FONT, color: '#111', size: 14},
  showlegend: true, hovermode: false,
  annotations: annotations, shapes: shapes,

  // a
  xaxis: rAxis({domain: dx(89, 561.7), range: [-7.13, -1.598], anchor: 'y', tickvals: [-7,-6,-5,-4,-3,-2], tickfont: {size: 14}, ticklabelstandoff: 4}),
  yaxis: rAxis({domain: dy(89, 511.7), range: [-1.531, 2.880], anchor: 'x', tickvals: [-1,0,1,2], tickangle: -90, tickfont: {size: 14}, ticklabelstandoff: 4}),
  xaxis2: {overlaying: 'x', side: 'top', anchor: 'y', range: [-7.13, -1.598], tickvals: A_TOP_TICKS, ticktext: A_TOP_LABELS,
    ticks: 'outside', ticklen: 6, tickcolor: '#333', showline: false, showgrid: false, zeroline: false, fixedrange: true,
    tickfont: {size: 14}, ticklabelstandoff: 7},
  // b
  xaxis3: rAxis({domain: dx(779.8, 1287.1), range: [-7.133, -1.603], anchor: 'y3', tickvals: [-7,-6,-5,-4,-3,-2], tickfont: {size: 16.5}, ticklabelstandoff: 5}),
  yaxis3: rAxis({domain: dy(51.6, 505.4), range: [10.26, 14.43], anchor: 'x3', tickvals: [11,12,13,14], tickangle: -90, tickfont: {size: 16.5}, ticklabelstandoff: 5}),
  xaxis4: {overlaying: 'x3', side: 'top', anchor: 'y3', range: [-7.133, -1.603], tickvals: CV_TOP_X, ticktext: CV_TOP_LABELS,
    ticks: '', showline: false, showgrid: false, zeroline: false, fixedrange: true, tickfont: {size: 16.5}, ticklabelstandoff: 16},
  // c
  xaxis5: {domain: dx(1570.1, 1919.3), range: [-0.4, 0.6], anchor: 'free', position: py(488.3), showline: true, linecolor: '#222', linewidth: 1.3,
    ticks: 'outside', ticklen: 8.5, tickcolor: '#222', tickwidth: 1.3, tickvals: C_TICKS, ticktext: C_TICK_LABELS,
    tickfont: {size: 22.5, weight: 'bold', color: '#111'}, showgrid: false, zeroline: false, fixedrange: true, ticklabelstandoff: 0},
  yaxis5: {domain: dy(173.5, 451.5), type: 'category', categoryorder: 'array', categoryarray: C_GENES, range: [8.5, -0.5], anchor: 'x5',
    showline: false, ticks: '', showticklabels: false, showgrid: false, zeroline: false, fixedrange: true},
  // d
  xaxis6: ggAxis({domain: dx(104, 654.5), range: [-0.5, 10.5], anchor: 'y6', tickvals: TABLE_TIMES}),
  yaxis6: ggAxis(Object.assign({domain: dy(706, 1005.3), range: [-0.048, 1.049], anchor: 'x6'}, kmTicks)),
  xaxis7: ggAxis({domain: dx(104, 654.5), range: [-0.5, 10.5], anchor: 'y7', tickvals: TABLE_TIMES}),
  yaxis7: ggAxis({domain: dy(1100.2, 1147.6), range: [-0.607, 1.607], anchor: 'x7', tickvals: [1, 0], ticklabelstandoff: 0,
    tickfont: {size: 17}, ticktext: [tblText(KM_RED, 'High risk'), tblText(KM_BLUE, 'Low risk')]}),
  // e
  xaxis8: rAxis({domain: dx(822.6, 1263.5), range: [-0.0386, 1.0389], anchor: 'y8', tickvals: ROC_TICKS, ticktext: ROC_TICK_LABELS, tickfont: {size: 18.5}, ticklabelstandoff: 11}),
  yaxis8: rAxis({domain: dy(729, 1099.8), range: [-0.039, 1.04], anchor: 'x8', tickvals: ROC_TICKS, ticktext: ROC_TICK_LABELS, tickangle: -90, tickfont: {size: 18.5}, ticklabelstandoff: 11}),
  // f
  xaxis9: rAxis({domain: dx(1420.3, 1958.8), range: [-6.16, 193.5], anchor: 'y9', tickvals: [0,50,100,150], ticklen: 7, ticklabelstandoff: 7}),
  yaxis9: rAxis({domain: dy(661.7, 865), range: [-0.028, 1.808], anchor: 'x9', tickvals: [0,0.5,1,1.5], ticktext: ['0.0','0.5','1.0','1.5'], ticklen: 7, tickangle: -90, ticklabelstandoff: 9}),
  xaxis10: rAxis({domain: dx(1420.3, 1958.8), range: [-6.16, 193.5], anchor: 'y10', tickvals: [0,50,100,150], ticklen: 7, ticklabelstandoff: 8}),
  yaxis10: rAxis({domain: dy(916, 1119.3), range: [-0.39, 10.44], anchor: 'x10', tickvals: [0,2,4,6,8,10], ticklen: 7, tickangle: -90, ticklabelstandoff: 9}),
  // g
  xaxis11: ggAxis({domain: dx(99.8, 651.6), range: [-0.502, 10.5], anchor: 'y11', tickvals: TABLE_TIMES}),
  yaxis11: ggAxis(Object.assign({domain: dy(1317.2, 1616.9), range: [-0.048, 1.0475], anchor: 'x11'}, kmTicks)),
  xaxis12: ggAxis({domain: dx(99.8, 651.6), range: [-0.502, 10.5], anchor: 'y12', tickvals: TABLE_TIMES}),
  yaxis12: ggAxis({domain: dy(1710.7, 1758.1), range: [-0.656, 1.656], anchor: 'x12', tickvals: [1, 0], ticklabelstandoff: 0,
    tickfont: {size: 17}, ticktext: [tblText(KM_RED, 'High risk'), tblText(KM_BLUE, 'Low risk')]}),
  // h
  xaxis13: rAxis({domain: dx(818.6, 1259.9), range: [-0.0396, 1.0386], anchor: 'y13', tickvals: ROC_TICKS, ticktext: ROC_TICK_LABELS, tickfont: {size: 18.5}, ticklabelstandoff: 12}),
  yaxis13: rAxis({domain: dy(1339.5, 1710.4), range: [-0.0384, 1.0404], anchor: 'x13', tickvals: ROC_TICKS, ticktext: ROC_TICK_LABELS, tickangle: -90, tickfont: {size: 18.5}, ticklabelstandoff: 11}),
  // i
  xaxis14: rAxis({domain: dx(1415.9, 1955.6), range: [-6.37, 191.2], anchor: 'y14', tickvals: [0,50,100,150], ticklen: 7, ticklabelstandoff: 8}),
  yaxis14: rAxis({domain: dy(1272.7, 1475.7), range: [-0.017, 2.465], anchor: 'x14', tickvals: [0,0.5,1,1.5,2], ticktext: ['0.0','0.5','1.0','1.5','2.0'], ticklen: 7, tickangle: -90, ticklabelstandoff: 7}),
  xaxis15: rAxis({domain: dx(1415.9, 1955.6), range: [-6.37, 191.2], anchor: 'y15', tickvals: [0,50,100,150], ticklen: 7, ticklabelstandoff: 7}),
  yaxis15: rAxis({domain: dy(1527.7, 1730), range: [-0.40, 10.07], anchor: 'x15', tickvals: [0,2,4,6,8,10], ticklen: 7, tickangle: -90, ticklabelstandoff: 7}),

  // legends
  legend: kmLegend(265, 668.4),
  legend5: kmLegend(261, 1278.7),
  legend2: legendAt(1005, 1030.5, 19, {itemwidth: 40}),
  legend9: legendAt(1005, 1053.9, 19, {itemwidth: 40}),
  legend10: legendAt(1005, 1077.2, 19, {itemwidth: 40}),
  legend6: legendAt(1001, 1640.6, 19, {itemwidth: 40}),
  legend11: legendAt(1001, 1664.2, 19, {itemwidth: 40}),
  legend12: legendAt(1001, 1687.3, 19, {itemwidth: 40}),
  legend3: legendAt(1416, 685, 18),
  legend13: legendAt(1416, 707.3, 18),
  legend4: legendAt(1416, 939.3, 18),
  legend14: legendAt(1416, 961.7, 18),
  legend7: legendAt(1412.5, 1295.7, 18),
  legend15: legendAt(1412.5, 1318.3, 18),
  legend8: legendAt(1412.5, 1550, 18),
  legend16: legendAt(1412.5, 1572.7, 18)
};

Plotly.newPlot('fig', traces, layout, {staticPlot: true, displayModeBar: false});
</script>
</body>
</html>
